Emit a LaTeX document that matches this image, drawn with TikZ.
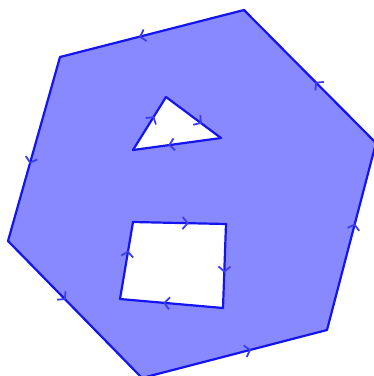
\documentclass[tikz,border=0pt]{standalone}
\usetikzlibrary{decorations.markings,arrows.meta}
\definecolor{fillblue}{RGB}{136,136,255}
\definecolor{edgeblue}{RGB}{20,20,240}
\definecolor{tipblue}{RGB}{60,60,240}
\tikzset{
  edge/.style={draw=edgeblue,line width=2.2pt,line cap=round,line join=round,
    postaction={decorate},
    decoration={markings,mark=at position #1 with {\arrow[tipblue,line width=1.8pt]{Straight Barb[length=5pt,width=12pt]}}}},
  edge/.default=0.5,
}
\begin{document}
\begin{tikzpicture}[x=1pt,y=-1pt]
\useasboundingbox (0,0) rectangle (374,376);
\clip (0,0) rectangle (374,376);
% outer hexagon
\coordinate (A) at (244,10);
\coordinate (B) at (376,143);
\coordinate (C) at (327,330);
\coordinate (D) at (142,378);
\coordinate (E) at (8,241);
\coordinate (F) at (60,57);
% triangle hole
\coordinate (T1) at (166,97);
\coordinate (T2) at (221,138);
\coordinate (T3) at (133,150);
% quad hole
\coordinate (Q1) at (133,222);
\coordinate (Q2) at (226,224);
\coordinate (Q3) at (223,308);
\coordinate (Q4) at (120,299);
\fill[fillblue,even odd rule] (A) -- (B) -- (C) -- (D) -- (E) -- (F) -- cycle
  (T1) -- (T2) -- (T3) -- cycle
  (Q1) -- (Q2) -- (Q3) -- (Q4) -- cycle;
% outer edges
\path[edge=0.57] (A) -- (F);
\path[edge=0.58] (F) -- (E);
\path[edge=0.43] (E) -- (D);
\path[edge=0.59] (D) -- (C);
\path[edge=0.57] (C) -- (B);
\path[edge=0.46] (B) -- (A);
% triangle edges
\path[edge=0.64] (T3) -- (T1);
\path[edge=0.65] (T1) -- (T2);
\path[edge=0.6] (T2) -- (T3);
% quad edges
\path[edge=0.6] (Q1) -- (Q2);
\path[edge=0.58] (Q2) -- (Q3);
\path[edge=0.58] (Q3) -- (Q4);
\path[edge=0.63] (Q4) -- (Q1);
\end{tikzpicture}
\end{document}
